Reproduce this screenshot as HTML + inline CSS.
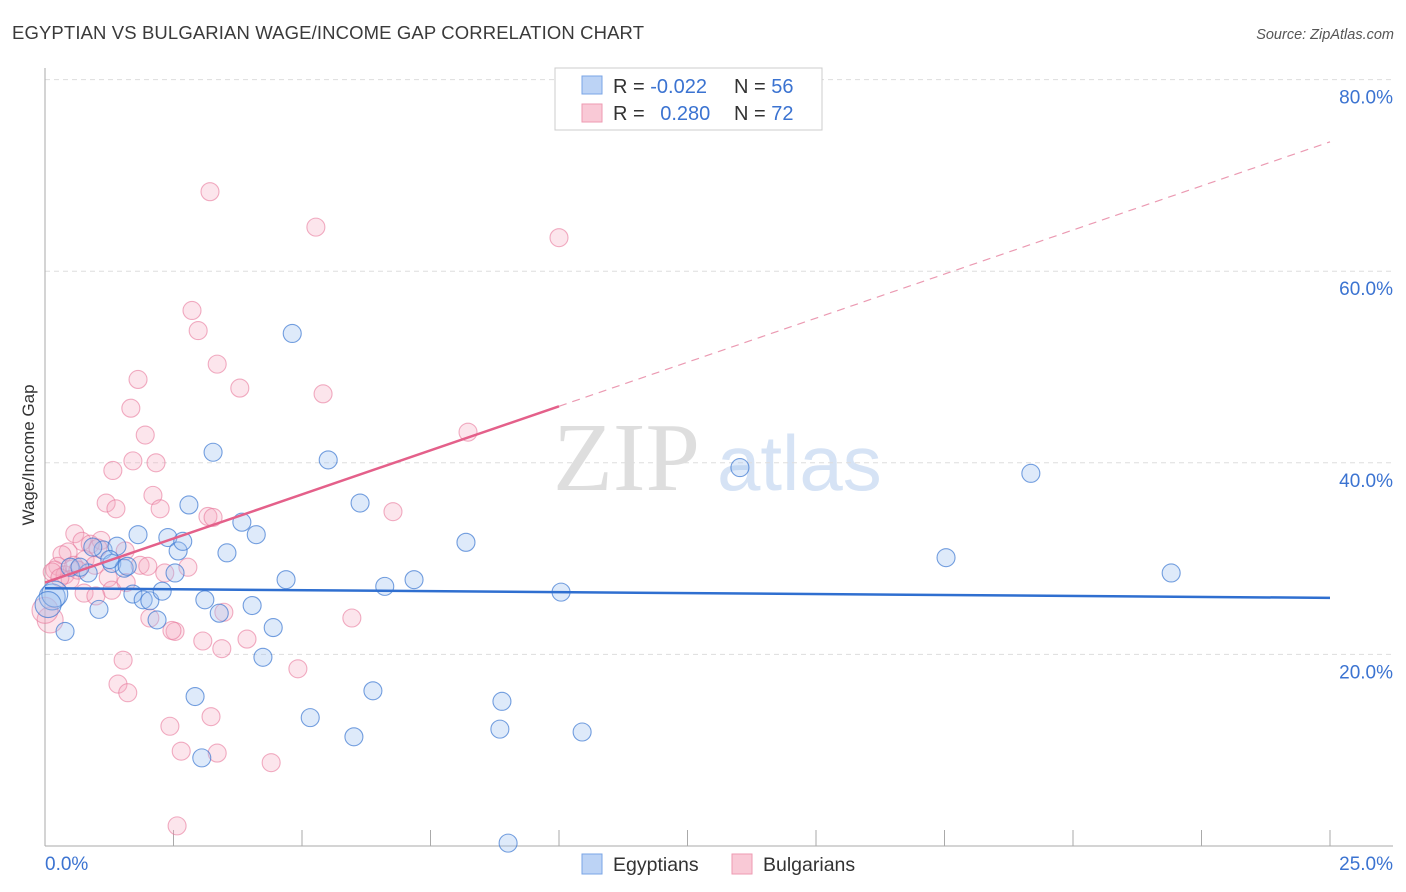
<!DOCTYPE html>
<html><head><meta charset="utf-8"><style>
body{margin:0;background:#fff;font-family:"Liberation Sans",sans-serif;}
svg{display:block}
</style></head><body>
<svg id="chart" width="1406" height="892">
<text x="12" y="39" font-size="18.5" fill="#3a3a3a" textLength="632">EGYPTIAN VS BULGARIAN WAGE/INCOME GAP CORRELATION CHART</text>
<text x="1394" y="39" font-size="14.5" fill="#555" font-style="italic" text-anchor="end">Source: ZipAtlas.com</text>
<g>
<text x="553" y="490" font-family="Liberation Serif,serif" font-size="98" fill="#dedede">ZIP</text>
<text x="717" y="490" font-size="78" fill="#d6e3f5">atlas</text>
</g>
<g id="grid"></g>
<line x1="45" y1="68" x2="45" y2="846" stroke="#aaa"/>
<line x1="45" y1="846" x2="1393" y2="846" stroke="#aaa"/>
<g id="ticks"></g>
<g id="pts"></g>
<g id="trend"></g>
<text transform="translate(34,455) rotate(-90)" font-size="17" fill="#333" text-anchor="middle">Wage/Income Gap</text>
<text x="45" y="870" font-size="19" fill="#3b73d1">0.0%</text>
<text x="1393" y="870" font-size="19" fill="#3b73d1" text-anchor="end">25.0%</text>
<g>
<rect x="555" y="68" width="267" height="62" fill="#fff" stroke="#ccc"/>
<rect x="582" y="76" width="20" height="18" fill="#bcd3f5" stroke="#7aa5e6"/>
<rect x="582" y="104" width="20" height="18" fill="#f9c9d6" stroke="#ee9ab2"/>
<text x="613" y="93" font-size="20" fill="#333">R = <tspan fill="#3b73d1">-0.022</tspan></text>
<text x="734" y="93" font-size="20" fill="#333">N = <tspan fill="#3b73d1">56</tspan></text>
<text x="613" y="120" font-size="20" fill="#333">R = <tspan fill="#3b73d1" dx="10">0.280</tspan></text>
<text x="734" y="120" font-size="20" fill="#333">N = <tspan fill="#3b73d1">72</tspan></text>
</g>
<g>
<rect x="582" y="854" width="20" height="20" fill="#bcd3f5" stroke="#7aa5e6"/>
<text x="613" y="871" font-size="19.5" fill="#333">Egyptians</text>
<rect x="732" y="854" width="20" height="20" fill="#f9c9d6" stroke="#ee9ab2"/>
<text x="763" y="871" font-size="19.5" fill="#333">Bulgarians</text>
</g>
</svg>
<script>
const yTicks=[20,40,60,80];
const yTickLabels=["20.0%","40.0%","60.0%","80.0%"];
const xTicks=[2.5,5,7.5,10,12.5,15,17.5,20,22.5,25];
const blueX=[0.14,0.19,0.39,0.84,1.05,1.13,1.30,1.40,1.54,1.60,1.71,1.81,1.91,2.04,2.18,2.28,2.39,2.53,2.59,2.68,2.80,2.92,3.05,3.11,3.27,3.39,3.54,3.83,4.03,4.11,4.24,4.44,4.69,4.81,5.16,5.51,6.01,6.13,6.38,6.61,7.18,8.19,8.85,8.89,9.01,10.04,10.45,13.52,17.53,19.18,21.91,0.06,0.49,0.68,0.93,1.26];
const blueY=[26.0,26.3,22.4,28.5,24.7,30.9,29.5,31.3,29.0,29.2,26.3,32.5,25.7,25.6,23.6,26.6,32.2,28.5,30.8,31.8,35.6,15.6,9.2,25.7,41.1,24.3,30.6,33.8,25.1,32.5,19.7,22.8,27.8,53.5,13.4,40.3,11.4,35.8,16.2,27.1,27.8,31.7,12.2,15.1,0.3,26.5,11.9,39.5,30.1,38.9,28.5,25.2,29.1,29.1,31.2,29.9];
const pinkX=[3.21,5.27,10.0,2.86,2.98,3.35,1.81,3.79,5.41,1.67,1.95,8.23,2.16,1.32,1.71,2.10,1.19,1.38,2.24,3.17,3.27,6.77,0.58,0.72,0.88,1.09,1.03,0.45,0.33,0.25,0.19,0.39,0.56,0.78,0.97,1.23,1.56,1.58,1.30,0.76,0.99,1.85,2.00,2.33,2.78,2.04,2.53,2.47,3.48,3.07,3.93,3.44,1.52,1.42,1.61,4.92,5.97,2.43,3.23,2.65,3.35,4.40,2.57,0.10,0.0,0.14,0.49,0.29,0.64];
const pinkY=[68.3,64.6,63.5,55.9,53.8,50.3,48.7,47.8,47.2,45.7,42.9,43.2,40.0,39.2,40.2,36.6,35.8,35.2,35.2,34.4,34.3,34.9,32.6,31.8,31.5,31.9,31.1,30.7,30.4,29.2,28.8,28.3,29.3,29.9,29.3,28.0,30.8,27.5,26.7,26.4,26.1,29.3,29.2,28.5,29.1,23.8,22.4,22.5,24.4,21.4,21.6,20.6,19.4,16.9,16.0,18.5,23.8,12.5,13.5,9.9,9.7,8.7,2.1,23.6,24.6,28.6,27.8,28.0,28.8];
const blueTrend=[26.9,-0.04];
const pinkTrend=[27.5,1.84];
const sx=v=>45+v*51.4, sy=v=>846-v*9.58;
const NS="http://www.w3.org/2000/svg";
function mk(tag,parent,attrs){const e=document.createElementNS(NS,tag);for(const k in attrs)e.setAttribute(k,attrs[k]);document.getElementById(parent).appendChild(e);return e;}
yTicks.forEach((t,i)=>{
 const l=mk('line','grid',{x1:45,x2:1393,y1:sy(t),y2:sy(t),stroke:'#ddd','stroke-dasharray':'5,4'});
 
 
 const tx=mk('text','grid',{x:1393,y:sy(t)+24,'font-size':19,fill:'#3b73d1','text-anchor':'end'});
 tx.textContent=yTickLabels[i];
 
 
});
xTicks.forEach(t=>{
 const l=mk('line','ticks',{x1:sx(t),x2:sx(t),y1:830,y2:846,stroke:'#aaa'});
 
 
});
function pts(X,Y,fill,stroke,name){X.forEach((x,i)=>{
 const r=(x<0.2&&Y[i]>22&&Y[i]<27)?13:9;
 const c=mk('circle','pts',{cx:sx(x),cy:sy(Y[i]),r:r,fill:fill,stroke:stroke,'stroke-width':1.1});
 
 
});}
pts(pinkX,pinkY,'rgba(246,170,192,0.3)','rgba(232,120,155,0.6)','bulgarian-point');
pts(blueX,blueY,'rgba(160,195,240,0.35)','rgba(60,120,210,0.7)','egyptian-point');
const b=mk('line','trend',{x1:sx(0),y1:sy(blueTrend[0]),x2:sx(25),y2:sy(blueTrend[0]+blueTrend[1]*25),stroke:'#2f6fd0','stroke-width':2.5});


const p1=mk('line','trend',{x1:sx(0),y1:sy(pinkTrend[0]),x2:sx(10),y2:sy(pinkTrend[0]+pinkTrend[1]*10),stroke:'#e4608a','stroke-width':2.5});


const p2=mk('line','trend',{x1:sx(10),y1:sy(pinkTrend[0]+pinkTrend[1]*10),x2:sx(25),y2:sy(pinkTrend[0]+pinkTrend[1]*25),stroke:'#eb9ab2','stroke-width':1.2,'stroke-dasharray':'8,6'});


</script>
</body></html>
